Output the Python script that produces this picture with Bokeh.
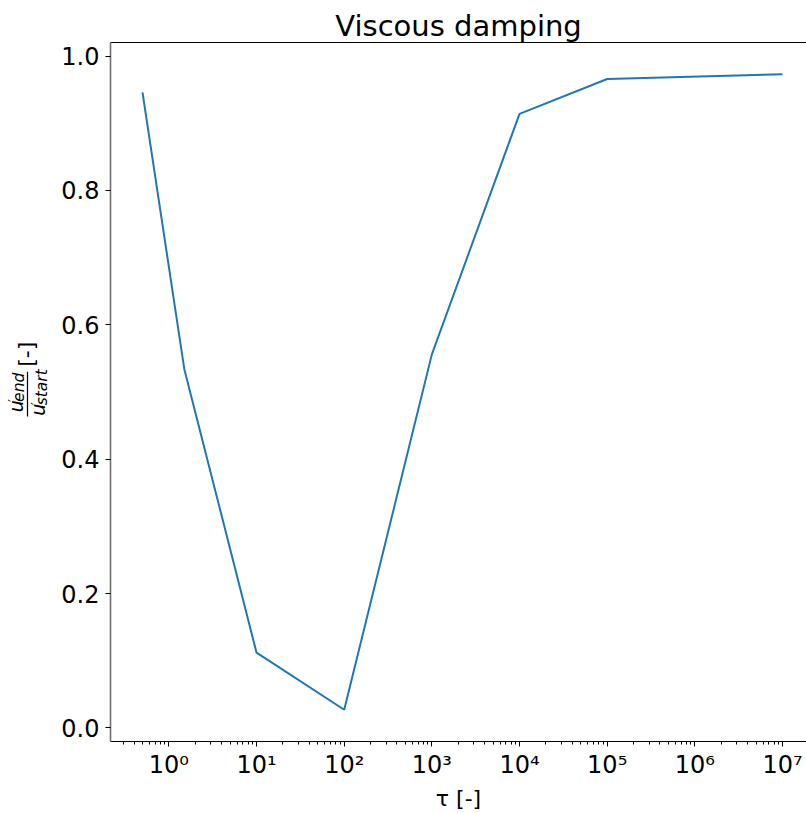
import math
import numpy as np
from bokeh.plotting import figure
from bokeh.layouts import row
from bokeh.models import (Range1d, FixedTicker, CustomJSTickFormatter, LinearAxis,
                          Label, Title, NumeralTickFormatter)
from bokeh.embed import file_html
from bokeh.resources import INLINE

# Damping ratio of the velocity fluctuation versus relaxation time
tau = [0.5, 1.5, 10, 100, 1e3, 1e4, 1e5, 1e7]
ratio = [0.946, 0.534, 0.112, 0.027, 0.556, 0.914, 0.966, 0.973]

y_ticks = [0.0, 0.2, 0.4, 0.6, 0.8, 1.0]
x_decades = list(range(0, 8))

FONT = "DejaVu Sans"
W, H = 806, 813
LAB_W = 58                      # strip holding the y axis title
LEFT, RIGHT, TOP, BOTTOM = 110, 0, 42, 72
FRAME_W = W - LEFT - RIGHT
FULL_W = 704                    # frame width without cropping at the right

# log x limits with a 5% margin, cropped at the right edge
lx = np.log10(tau)
span = lx.max() - lx.min()
x_lo = lx.min() - 0.05 * span
x_hi_full = lx.max() + 0.05 * span
x_hi = x_lo + (x_hi_full - x_lo) * FRAME_W / FULL_W

yspan = max(ratio) - min(ratio)
y_lo = min(ratio) - 0.05 * yspan
y_hi = max(ratio) + 0.05 * yspan

p = figure(width=W - LAB_W, height=H, x_axis_type="log",
           x_range=Range1d(10 ** x_lo, 10 ** x_hi), y_range=Range1d(y_lo, y_hi),
           output_backend="svg", toolbar_location=None,
           min_border_left=LEFT - LAB_W, min_border_right=RIGHT,
           min_border_top=TOP, min_border_bottom=BOTTOM)
p.background_fill_color = "white"
p.border_fill_color = "white"
p.outline_line_color = None
p.xgrid.visible = False
p.ygrid.visible = False

p.line(tau, ratio, line_color="#1f77b4", line_width=2)

xa = p.below[0]
ya = p.left[0]

# top spine as a bare axis
top_axis = LinearAxis(ticker=FixedTicker(ticks=[]), axis_line_color="black",
                      axis_line_width=1, major_tick_line_color=None,
                      minor_tick_line_color=None, major_label_text_font_size="0px",
                      major_tick_out=0, major_tick_in=0, major_label_standoff=0)
p.add_layout(top_axis, "above")
p.add_layout(Title(text="Viscous damping", align="center", text_font=FONT,
                   text_font_size="29px", text_font_style="normal",
                   text_color="black", standoff=0), "above")

# y axis
ya.ticker = FixedTicker(ticks=y_ticks)
ya.formatter = NumeralTickFormatter(format="0.0")
ya.major_label_text_font = FONT
ya.major_label_text_font_size = "24px"
ya.major_label_text_color = "black"
ya.major_tick_in = 0
ya.major_tick_out = 5
ya.major_tick_line_color = "black"
ya.minor_tick_line_color = None
ya.major_label_standoff = 6
ya.axis_line_color = "#6f6f6f"
ya.axis_line_width = 1.6

# x axis (log)
xa.ticker = FixedTicker(ticks=[10.0 ** k for k in x_decades],
                        minor_ticks=[m * 10.0 ** k for k in range(-1, 8) for m in range(2, 10)])
xa.formatter = CustomJSTickFormatter(code="""
const sup = ['\\u2070','\\u00b9','\\u00b2','\\u00b3','\\u2074','\\u2075','\\u2076','\\u2077','\\u2078','\\u2079'];
const e = Math.round(Math.log10(tick));
let s = '';
for (const c of String(Math.abs(e))) s += sup[+c];
return '10' + (e < 0 ? '\\u207b' : '') + s;
""")
xa.major_label_text_font = FONT
xa.major_label_text_font_size = "24px"
xa.major_label_text_color = "black"
xa.major_tick_in = 0
xa.major_tick_out = 5
xa.minor_tick_in = 0
xa.minor_tick_out = 3
xa.major_tick_line_color = "black"
xa.minor_tick_line_color = "black"
xa.major_label_standoff = 4
xa.axis_line_color = "black"
xa.axis_line_width = 1
xa.axis_label = "\u03c4 [-]"
xa.axis_label_text_font = FONT
xa.axis_label_text_font_size = "22px"
xa.axis_label_text_font_style = "normal"
xa.axis_label_text_color = "black"
xa.axis_label_standoff = 4

# narrow strip on the left carrying the y axis title u'_end / u'_start [-];
# its ranges are in pixels so the pieces can be typeset by position
lab = figure(width=LAB_W, height=H, x_range=Range1d(0, LAB_W), y_range=Range1d(0, H),
             output_backend="svg", toolbar_location=None,
             x_axis_location=None, y_axis_location=None,
             min_border_left=0, min_border_right=0, min_border_top=0, min_border_bottom=0)
lab.outline_line_color = None
lab.grid.visible = False
lab.background_fill_color = "white"
lab.border_fill_color = "white"

BASE_SHIFT = 0.37   # rotated labels sit this many em to the right of their anchor


def note(text, base_x, cy, size, italic=False, align="left"):
    """Vertical text piece; base_x is the wanted baseline column, cy counted from the top."""
    lab.add_layout(Label(x=base_x - BASE_SHIFT * size, y=H - cy, text=text,
                         angle=math.pi / 2, text_font=FONT, text_font_size=f"{size}px",
                         text_font_style="italic" if italic else "normal",
                         text_color="black", text_align=align,
                         text_baseline="alphabetic"))


SUB = 15.5
note("[-]", 33.9, 362.5, 22, align="center")
# numerator
note("u", 23, 430, 19, italic=True)
note("\u2032", 18, 418, 14)
note("end", 24, 418, SUB, italic=True)
# denominator
note("u", 45, 434, 19, italic=True)
note("\u2032", 41, 422, 14)
note("start", 47, 422, SUB, italic=True)
# fraction bar
lab.segment(x0=[27], y0=[H - 383], x1=[27], y1=[H - 435],
            line_color="black", line_width=1.2)

layout = row(lab, p, spacing=0)
open("out.html", "w", encoding="utf-8").write(file_html(layout, INLINE))
